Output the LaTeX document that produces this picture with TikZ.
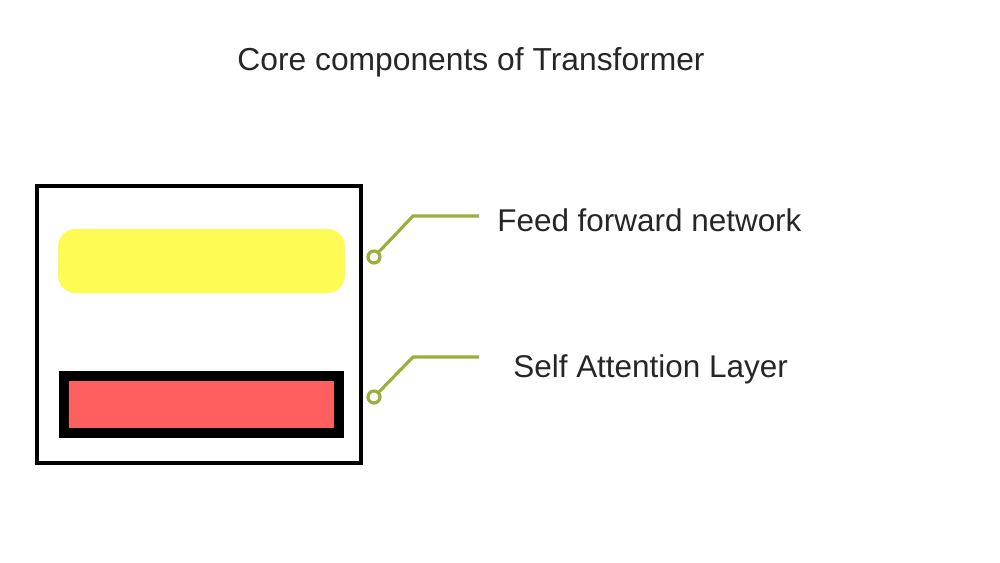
\documentclass[tikz,border=0pt]{standalone}
\usepackage{fontspec}
\setmainfont{Liberation Sans}
\usetikzlibrary{calc, positioning}
\definecolor{leafgreen}{HTML}{9AAF3A}
\definecolor{ffnyellow}{HTML}{FFFB55}
\definecolor{attnred}{HTML}{FF5F5F}

\begin{document}
\begin{tikzpicture}[
    x=0.02cm, y=-0.02cm,
    frame box/.style={draw=black, line width=2.8pt, minimum width=324*0.02cm, minimum height=277*0.02cm, inner sep=0pt},
    ffn box/.style={fill=ffnyellow, rounded corners=10pt, minimum width=287*0.02cm, minimum height=64*0.02cm, inner sep=0pt},
    attn box/.style={fill=attnred, draw=black, line width=5.6pt, minimum width=275*0.02cm, minimum height=57*0.02cm, inner sep=0pt},
    pin dot/.style={circle, draw=leafgreen, line width=1.8pt, minimum size=12*0.02cm, inner sep=0pt},
    pin line/.style={leafgreen, line width=1.8pt},
    label text/.style={font=\fontsize{17.9}{21}\selectfont, text=black!85, anchor=west, inner sep=0pt}
]
\useasboundingbox (0,0) rectangle (1000,562);

% Title
\node[font=\fontsize{18.1}{21}\selectfont, text=black!85] (title) at (471,62) {Core components of Transformer};

% Layer stack
\node[frame box] (frame) at (199,324.5) {};
\node[ffn box] (ffn) at (201.5,261) {};
\node[attn box] (attn) at (201.5,404.5) {};

% Callout pins
\node[pin dot] (ffndot) at (374,257) {};
\node[pin dot] (attndot) at (374,397) {};
\coordinate (ffnbend) at (413,216);
\coordinate (attnbend) at (413,357);
\coordinate (ffnend) at (479,216);
\coordinate (attnend) at (479,357);

% Labels
\node[label text] (ffnlabel) at (497,220) {Feed forward network};
\node[label text] (attnlabel) at (513,369) {Self Attention Layer};

% Callout lines
\draw[pin line] (ffndot) -- (ffnbend) -- (ffnend);
\draw[pin line] (attndot) -- (attnbend) -- (attnend);
\end{tikzpicture}
\end{document}
